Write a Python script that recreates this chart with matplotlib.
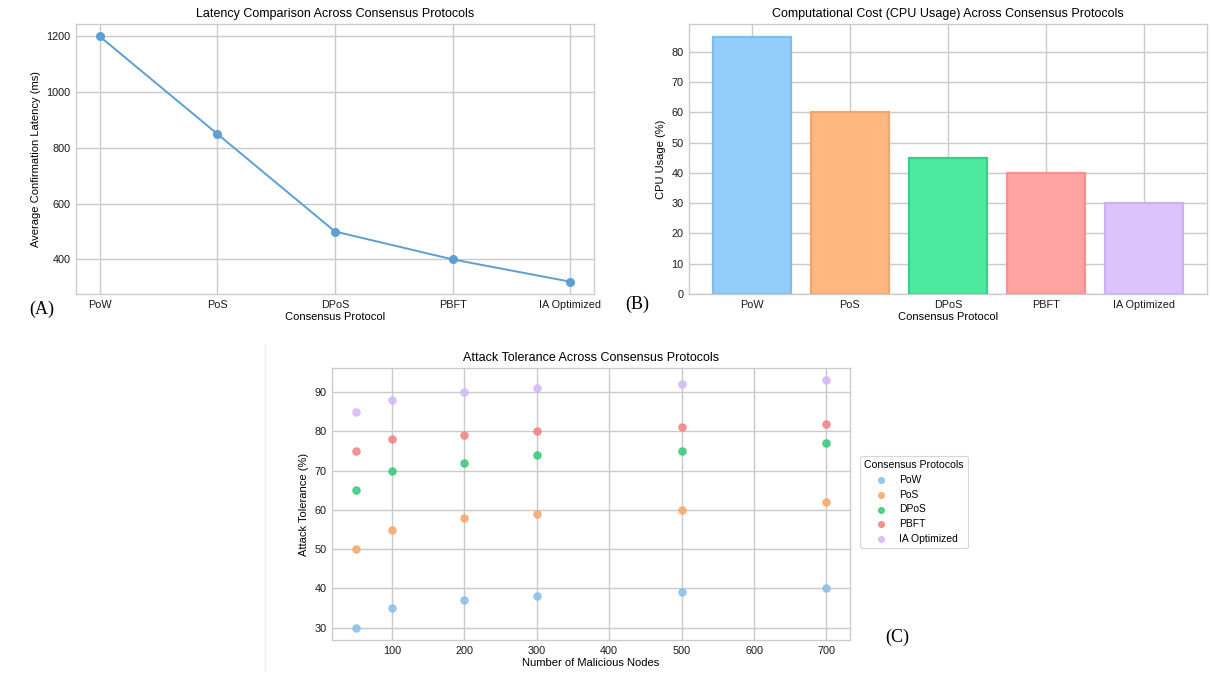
import matplotlib
matplotlib.use("Agg")
import matplotlib.pyplot as plt
import numpy as np

# ---- data ----
protocols = ["PoW", "PoS", "DPoS", "PBFT", "IA Optimized"]
latency_ms = [1200, 850, 500, 400, 320]
cpu_usage = [85, 60, 45, 40, 30]
malicious_nodes = [50, 100, 200, 300, 500, 700]
tol_pow = [30, 35, 37, 38, 39, 40]
tol_pos = [50, 55, 58, 59, 60, 62]
tol_dpos = [65, 70, 72, 74, 75, 77]
tol_pbft = [75, 78, 79, 80, 81, 82]
tol_ia = [85, 88, 90, 91, 92, 93]

# ---- style ----
plt.rcParams['font.family'] = ['Liberation Sans', 'DejaVu Sans']
W, H = 1211, 675
fig = plt.figure(figsize=(W / 100, H / 100), dpi=100)

bar_face = ["#93CEFB", "#FFB880", "#4BEA9F", "#FFA4A0", "#DCC3FC"]
bar_edge = ["#80BCEB", "#F4A56C", "#35D08A", "#F29390", "#CBB0F5"]
pt_face = ["#8BBDE9", "#F5A869", "#37C979", "#F08282", "#D2B8F8"]

grid_c = "#cacaca"
spine_c = "#cccccc"
tick_fs = 7.8
lab_fs = 8.0
title_fs = 9.0


def px_axes(l, t, r, b):
    return fig.add_axes([l / W, 1 - b / H, (r - l) / W, (b - t) / H])


def style(ax):
    ax.set_facecolor("white")
    ax.grid(True, color=grid_c, linewidth=1.0)
    ax.set_axisbelow(True)
    for s in ax.spines.values():
        s.set_color(spine_c)
        s.set_linewidth(1.0)
    ax.tick_params(length=0, labelsize=tick_fs, pad=4, colors="#1a1a1a")


# ---- Panel A ----
axA = px_axes(76, 24, 594, 294)
style(axA)
xA = np.arange(len(protocols))
axA.plot(xA, latency_ms, color="#5E9FD2", linewidth=1.4, marker="o", markersize=5.5)
axA.set_xticks(xA)
axA.set_xticklabels(protocols)
axA.set_yticks([400, 600, 800, 1000, 1200])
axA.set_title("Latency Comparison Across Consensus Protocols", fontsize=title_fs, pad=5)
axA.set_xlabel("Consensus Protocol", fontsize=lab_fs, labelpad=2)
axA.set_ylabel("Average Confirmation Latency (ms)", fontsize=lab_fs, labelpad=4)

# ---- Panel B ----
axB = px_axes(689, 24, 1207, 294)
style(axB)
xB = np.arange(len(protocols))
axB.bar(xB, cpu_usage, width=0.8, color=bar_face, edgecolor=bar_edge, linewidth=1.6)
axB.set_xticks(xB)
axB.set_xticklabels(protocols)
axB.set_yticks(np.arange(0, 81, 10))
axB.set_title("Computational Cost (CPU Usage) Across Consensus Protocols", fontsize=title_fs, pad=5)
axB.set_xlabel("Consensus Protocol", fontsize=lab_fs, labelpad=2)
axB.set_ylabel("CPU Usage (%)", fontsize=lab_fs, labelpad=4)

# ---- Panel C ----
axC = px_axes(332, 368, 850, 640)
style(axC)
series = [tol_pow, tol_pos, tol_dpos, tol_pbft, tol_ia]
for name, vals, c in zip(protocols, series, pt_face):
    axC.scatter(malicious_nodes, vals, s=28, color=c, alpha=0.85,
                edgecolors=c, linewidths=0.8, label=name, zorder=3)
axC.set_xticks([100, 200, 300, 400, 500, 600, 700])
axC.set_yticks([30, 40, 50, 60, 70, 80, 90])
axC.set_title("Attack Tolerance Across Consensus Protocols", fontsize=title_fs, pad=5)
axC.set_xlabel("Number of Malicious Nodes", fontsize=lab_fs, labelpad=2)
axC.set_ylabel("Attack Tolerance (%)", fontsize=lab_fs, labelpad=4)
leg = axC.legend(title="Consensus Protocols", loc="center left",
                 bbox_to_anchor=(855 / W, 1 - 502 / H), bbox_transform=fig.transFigure,
                 fontsize=7.5, title_fontsize=7.6, frameon=True, borderpad=0.4,
                 labelspacing=0.45, handletextpad=0.7, markerscale=0.8)
leg.get_frame().set_edgecolor("#cccccc")
leg.get_frame().set_linewidth(0.8)

# faint border of the pasted panel C
fig.add_artist(plt.Line2D([265 / W, 265 / W], [1 - 345 / H, 1 - 670 / H],
                          transform=fig.transFigure, color="#eeeeee", linewidth=1))

# ---- panel labels ----
lab_kw = dict(family=["Liberation Serif", "DejaVu Serif"], fontsize=13, color="black",
              ha="center", va="center")
fig.text(42 / W, 1 - 309 / H, "(A)", **lab_kw)
fig.text(637 / W, 1 - 304 / H, "(B)", **lab_kw)
fig.text(897 / W, 1 - 637 / H, "(C)", **lab_kw)

fig.savefig("out.png", dpi=100, facecolor="white")
